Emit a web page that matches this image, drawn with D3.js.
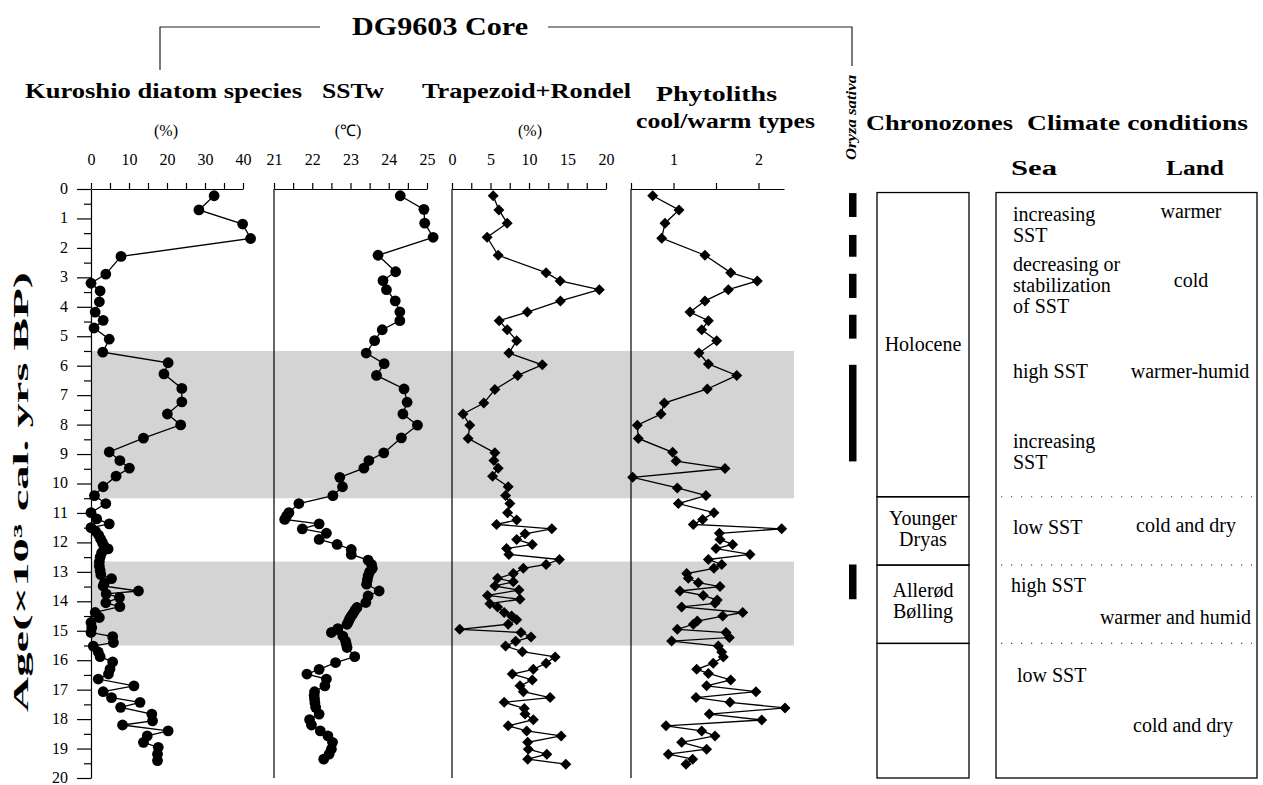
<!DOCTYPE html>
<html><head><meta charset="utf-8">
<script src="https://cdn.jsdelivr.net/npm/d3@7"></script>
<style>
body{margin:0;background:#fff}
svg{display:block}
text{font-family:"Liberation Serif","Times New Roman",serif;fill:#000}
</style>
</head><body>
<svg id="chart" width="1263" height="785"></svg>
<script>
// ---------- DATA ----------
const diatomAge = [0.23,0.71,1.19,1.68,2.29,2.89,3.2,3.46,3.83,4.18,4.46,4.72,5.1,5.54,5.9,6.28,6.77,7.23,7.64,8.01,8.46,8.93,9.22,9.48,9.75,10.11,10.41,10.68,10.99,11.2,11.37,11.5,11.62,11.75,11.88,12.0,12.12,12.22,12.35,12.5,12.65,12.8,12.95,13.1,13.23,13.38,13.48,13.65,13.75,13.87,14.05,14.18,14.38,14.55,14.72,14.89,15.06,15.2,15.4,15.52,15.72,15.88,16.06,16.3,16.47,16.64,16.87,17.07,17.27,17.43,17.6,17.83,18.06,18.2,18.4,18.57,18.79,18.96,19.19,19.41];
const diatomPct = [32.4,28.4,39.9,42.0,7.9,3.9,0,2.4,2.2,1.1,3.2,0.8,4.8,3.1,20.3,19.2,23.9,23.9,20.1,23.6,13.8,4.8,7.6,10.1,6.6,3.2,0.9,3.9,0,1.5,4.8,0,1.2,2.0,2.5,3.0,3.4,4.5,2.8,2.4,2.2,2.2,2.4,2.6,5.4,3.5,3.2,12.5,4.0,7.5,3.9,7.6,1.1,2.2,0,0.2,0,5.7,5.9,0.6,1.9,2.4,5.7,5.0,4.6,1.9,11.3,3.2,5.4,12.9,7.8,16.0,16.2,8.3,20.3,14.8,13.8,17.7,17.5,17.5];

const sstAge = [0.23,0.69,1.16,1.64,2.25,2.81,3.11,3.42,3.8,4.17,4.47,4.78,5.15,5.57,5.93,6.33,6.79,7.24,7.64,8.02,8.45,8.96,9.22,9.48,9.79,10.11,10.41,10.68,10.99,11.1,11.22,11.37,11.54,11.69,11.9,12.07,12.24,12.41,12.6,12.75,12.88,13.0,13.14,13.28,13.42,13.65,13.82,14.04,14.21,14.3,14.41,14.5,14.59,14.68,14.78,14.93,15.06,15.18,15.35,15.45,15.57,15.88,16.08,16.31,16.47,16.64,16.87,17.07,17.2,17.32,17.45,17.6,17.83,18.02,18.2,18.4,18.57,18.79,19.02,19.19,19.36];
const sstTemp = [24.30,24.92,24.94,25.16,23.72,24.18,23.85,23.94,24.17,24.29,24.29,23.83,23.63,23.41,23.88,23.68,24.40,24.48,24.37,24.75,24.33,23.87,23.48,23.35,22.72,22.79,22.54,21.65,21.39,21.33,21.28,22.18,21.74,22.37,22.18,22.65,23.02,23.02,23.46,23.55,23.57,23.5,23.46,23.44,23.42,23.75,23.46,23.40,23.17,23.12,23.07,23.02,22.98,22.95,22.91,22.67,22.50,22.8,22.87,22.89,22.91,23.11,22.61,22.18,21.86,22.37,22.33,22.06,22.05,22.06,22.07,22.09,22.18,21.93,21.98,22.21,22.41,22.53,22.5,22.44,22.3];

const trapAge = [0.23,0.71,1.16,1.64,2.25,2.84,3.12,3.42,3.8,4.18,4.47,4.78,5.15,5.57,5.97,6.33,6.81,7.27,7.64,8.02,8.47,8.96,9.22,9.48,9.75,10.11,10.41,10.68,10.99,11.24,11.39,11.54,11.71,11.9,12.07,12.21,12.41,12.58,12.75,12.88,13.06,13.22,13.34,13.48,13.62,13.8,13.93,14.08,14.19,14.38,14.5,14.63,14.78,14.95,15.06,15.21,15.36,15.52,15.71,15.89,16.1,16.31,16.47,16.67,16.87,17.07,17.27,17.43,17.64,17.83,18.02,18.23,18.4,18.57,18.79,19.02,19.19,19.36,19.53];
const trapPct = [5.35,6.09,7.17,4.56,6.0,12.22,14.04,19.13,14.08,9.78,6.13,7.17,8.4,7.39,11.73,8.53,5.57,4.13,1.43,2.31,2.09,5.57,5.44,6.0,5.27,7.3,6.96,7.52,7.22,8.4,5.79,12.96,9.48,8.4,10.43,7.09,7.39,13.95,12.22,9.26,7.96,5.92,7.96,5.57,8.7,4.61,8.83,4.92,5.92,6.78,7.74,8.4,7.3,1.0,8.96,10.26,8.27,6.96,9.13,13.39,12.22,10.56,7.83,10.43,8.83,9.26,12.74,6.78,9.39,9.48,10.56,7.3,9.7,14.17,9.83,9.91,12.31,9.83,14.78];

const phytoAge = [0.23,0.71,1.16,1.67,2.25,2.84,3.12,3.42,3.8,4.18,4.47,4.78,5.15,5.57,5.94,6.33,6.79,7.27,7.64,8.02,8.47,8.94,9.24,9.49,9.79,10.15,10.41,10.68,10.99,11.22,11.39,11.54,11.69,11.9,12.07,12.21,12.41,12.58,12.75,12.88,13.06,13.22,13.37,13.5,13.65,13.8,13.96,14.07,14.19,14.38,14.5,14.67,14.78,14.95,15.06,15.23,15.35,15.52,15.72,15.89,16.1,16.31,16.45,16.67,16.87,17.07,17.27,17.43,17.62,17.83,18.03,18.23,18.4,18.57,18.79,19.02,19.19,19.36,19.53];
const phytoRatio = [0.755,1.065,0.9,0.861,1.37,1.673,1.986,1.645,1.37,1.194,1.41,1.332,1.508,1.3,1.41,1.744,1.398,0.892,0.853,0.574,0.586,0.99,1.03,1.606,0.52,1.045,1.382,1.057,1.476,1.343,1.233,2.273,1.539,1.547,1.696,1.5,1.9,1.41,1.567,1.476,1.155,1.174,1.292,1.547,1.076,1.35,1.515,1.488,1.096,1.814,1.579,1.28,1.233,1.045,1.618,1.657,0.978,1.527,1.567,1.586,1.468,1.273,1.41,1.673,1.39,1.97,1.265,1.665,2.312,1.421,2.038,0.912,1.332,1.488,1.096,1.39,0.939,1.226,1.147];

const ageTicks = d3.range(0, 21, 1);
const diatomTicks = [0,5,10,15,20,25,30,35,40];
const sstTicks = [21,21.5,22,22.5,23,23.5,24,24.5,25];
const trapTicks = [0,2.5,5,7.5,10,12.5,15,17.5,20];
const phytoTicks = [0.5,1,1.5,2];

const warmBands = [[5.5,10.5],[12.65,15.5]];
const oryzaIntervals = [[0.14,0.95],[1.56,2.3],[2.88,3.7],[4.27,5.08],[5.97,9.25],[12.75,13.93]];
const chronoNames = [["Holocene"],["Younger","Dryas"],["Allerød","Bølling"],[]];
const chronoTop = [0.12,10.45,12.77,15.43];
const chronoBottom = [10.45,12.77,15.43,20];
const climateBreaks = [10.45,12.77,15.43];
const seaLabels = [["increasing","SST"],["decreasing or","stabilization","of SST"],["high SST"],["increasing","SST"],["low SST"],["high SST"],["low SST"]];
const seaAges = [1.07,2.78,6.41,8.78,11.73,13.69,16.75];
const landLabels = ["warmer","cold","warmer-humid","cold and dry","warmer and humid","cold and dry"];
const landAges = [0.98,3.32,6.41,11.66,14.78,18.44];

// ---------- LAYOUT ----------
const svg = d3.select('#chart');
const y = d3.scaleLinear().domain([0,20]).range([189,778]);
const x1 = d3.scaleLinear().domain([0,40]).range([91,243]);
const x2 = d3.scaleLinear().domain([21,25]).range([274,427]);
const x3 = d3.scaleLinear().domain([0,20]).range([452,606]);
const x4 = d3.scaleLinear().domain([0.5,2.3]).range([631,784]);

function txt(g, o){
  const t = g.append('text').attr('x',o.x).attr('y',o.y).text(o.t)
    .style('font-size',(o.s||16)+'px')
    .style('font-weight',o.w||'normal')
    .attr('text-anchor',o.a||'start');
  if(o.italic) t.style('font-style','italic');
  if(o.len){ t.attr('textLength',o.len).attr('lengthAdjust','spacingAndGlyphs'); }
  if(o.rot) t.attr('transform',`rotate(${o.rot},${o.x},${o.y})`);
  return t;
}

// gray bands
svg.append('g').selectAll('rect').data(warmBands).join('rect')
  .attr('x',x1(0)).attr('width',794-x1(0))
  .attr('y',d=>y(d[0])).attr('height',d=>y(d[1])-y(d[0]))
  .attr('fill','#d4d4d4');

// header bracket
const hdr = svg.append('g').attr('stroke','#222').attr('stroke-width',1.2).attr('fill','none');
hdr.append('path').attr('d','M160,70V27H320');
hdr.append('path').attr('d','M548,27H852V66');
txt(svg,{x:440,y:35,t:'DG9603 Core',s:25,w:'bold',a:'middle',len:176});

// titles
const T = [
  {x:25,y:98,t:'Kuroshio diatom species',len:277},
  {x:322,y:98,t:'SSTw',len:62},
  {x:422,y:98,t:'Trapezoid+Rondel',len:209},
  {x:656,y:101,t:'Phytoliths',len:121},
  {x:636,y:128,t:'cool/warm types',len:179},
  {x:866,y:130,t:'Chronozones',len:147},
  {x:1027,y:130,t:'Climate conditions',len:221},
  {x:1011,y:175,t:'Sea',len:46},
  {x:1166,y:175,t:'Land',len:58}
];
T.forEach(o=>txt(svg,{...o,s:20,w:'bold'}));
txt(svg,{x:166,y:136,t:'(%)',s:16,a:'middle'});
txt(svg,{x:348,y:136,t:'(℃)',s:16,a:'middle'});
txt(svg,{x:530,y:136,t:'(%)',s:16,a:'middle'});
txt(svg,{x:856,y:160,t:'Oryza sativa',s:14,w:'bold',italic:true,rot:-90,len:85});
txt(svg,{x:28,y:492,t:'Age(×10³ cal. yrs BP)',s:21,w:'bold',a:'middle',rot:-90,len:440});

// top axes
function topAxis(scale, ticks, fmt){
  const g = svg.append('g').attr('transform',`translate(0,${y(0)})`)
    .call(d3.axisTop(scale).tickValues(ticks).tickSize(6).tickSizeOuter(0).tickPadding(18).tickFormat(fmt));
  g.selectAll('text').style('font-size','16px').attr('font-family',null);
  g.selectAll('line,path').attr('stroke','#000').attr('stroke-width',1.2);
  return g;
}
topAxis(x1, diatomTicks, d=> d%10===0 ? d : '');
topAxis(x2, sstTicks, d=> Number.isInteger(d) ? d : '');
topAxis(x3, trapTicks, d=> d%5===0 ? d : '');
topAxis(x4, phytoTicks, d=> (d===1||d===2) ? d : '');

// left age axis
const ya = svg.append('g').attr('transform',`translate(${x1(0)},0)`)
  .call(d3.axisLeft(y).tickValues(ageTicks).tickSize(14).tickSizeOuter(0).tickPadding(9));
ya.selectAll('text').style('font-size','16px').attr('dy','0.28em');
svg.append('g').attr('transform',`translate(${x1(0)},0)`)
  .call(d3.axisLeft(y).tickValues(d3.range(0.5,20,1)).tickSize(7).tickSizeOuter(0).tickFormat(''))
  .select('.domain').remove();
svg.selectAll('.tick line,.domain').attr('stroke','#000').attr('stroke-width',1.2);

// panel borders
[x2,x3,x4].forEach(s=>{
  svg.append('line').attr('x1',s.range()[0]).attr('x2',s.range()[0])
    .attr('y1',y(0)).attr('y2',y(20)).attr('stroke','#000').attr('stroke-width',1.2);
});

// series
const diamond = 'M0,-5.5L5.5,0L0,5.5L-5.5,0Z';
function series(ages, vals, xs, marker){
  const pts = ages.map((a,i)=>({a, v:vals[i]}));
  const g = svg.append('g');
  g.append('path').datum(pts)
    .attr('d', d3.line().x(d=>xs(d.v)).y(d=>y(d.a)))
    .attr('fill','none').attr('stroke','#000').attr('stroke-width',1.3);
  if(marker==='circle'){
    g.selectAll('circle').data(pts).join('circle')
      .attr('cx',d=>xs(d.v)).attr('cy',d=>y(d.a)).attr('r',5.4).attr('fill','#000');
  } else {
    g.selectAll('path.m').data(pts).join('path').attr('class','m')
      .attr('d',diamond).attr('transform',d=>`translate(${xs(d.v)},${y(d.a)})`).attr('fill','#000');
  }
}
series(diatomAge, diatomPct, x1, 'circle');
series(sstAge, sstTemp, x2, 'circle');
series(trapAge, trapPct, x3, 'diamond');
series(phytoAge, phytoRatio, x4, 'diamond');

// Oryza sativa bars
svg.append('g').selectAll('rect').data(oryzaIntervals).join('rect')
  .attr('x',849).attr('width',7.5)
  .attr('y',d=>y(d[0])).attr('height',d=>y(d[1])-y(d[0])).attr('fill','#000');

// chronozones
const cz = svg.append('g');
const chronoTextY = [[351],[525,546],[597,618],[]];
chronoTop.forEach((t,i)=>{
  cz.append('rect').attr('x',877).attr('width',92)
    .attr('y',y(t)).attr('height',y(chronoBottom[i])-y(t))
    .attr('fill','none').attr('stroke','#000').attr('stroke-width',1.3);
  chronoNames[i].forEach((n,j)=>txt(cz,{x:923,y:chronoTextY[i][j],t:n,s:20,a:'middle'}));
});

// climate box
const cb = svg.append('g');
cb.append('rect').attr('x',996).attr('width',261).attr('y',y(0.12)).attr('height',y(20)-y(0.12))
  .attr('fill','none').attr('stroke','#000').attr('stroke-width',1.3);
cb.selectAll('line').data(climateBreaks).join('line')
  .attr('x1',1001).attr('x2',1252).attr('y1',d=>y(d)).attr('y2',d=>y(d))
  .attr('stroke','#444').attr('stroke-width',1.2).attr('stroke-dasharray','1.2,8.8');
const seaX = [1013,1013,1013,1013,1013,1011,1017];
seaLabels.forEach((lines,i)=>{
  lines.forEach((l,j)=>txt(cb,{x:seaX[i],y:y(seaAges[i])+j*21,t:l,s:20}));
});
const landX = [1191,1191,1190,1186,1251,1183];
const landAnchor = ['middle','middle','middle','middle','end','middle'];
landLabels.forEach((l,i)=>txt(cb,{x:landX[i],y:y(landAges[i]),t:l,s:20,a:landAnchor[i]}));
</script>
</body></html>
